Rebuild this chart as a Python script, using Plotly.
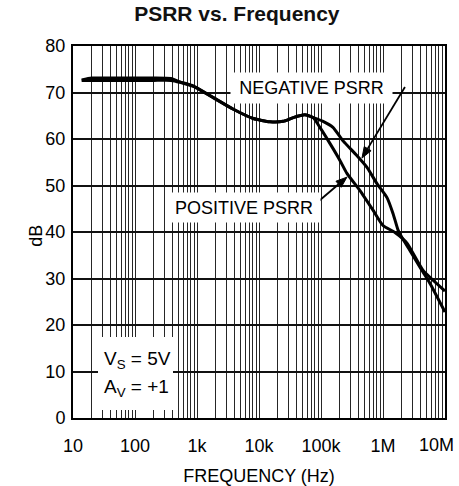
import math
import plotly.graph_objects as go

# Positive supply rejection (dB) vs frequency (Hz)
freq_pos = [13.8, 20, 50, 100, 200, 380, 530, 870, 1830, 3860, 8100, 15000, 24600,
            35700, 55000, 75000, 96000, 140000, 202000, 262000, 425000, 690000,
            1.0e6, 1.56e6, 2.44e6, 4.4e6, 1.0e7]
psrr_pos = [72.6, 72.6, 72.6, 72.6, 72.6, 72.6, 72.2, 71.3, 68.9, 66.4, 64.4, 63.7, 63.8,
            64.6, 65.2, 64.6, 62.5, 59.0, 55.4, 52.6, 48.9, 44.7,
            41.4, 39.9, 37.6, 31.8, 27.3]

# Negative supply rejection (dB) vs frequency (Hz)
freq_neg = [13.8, 20, 50, 100, 200, 380, 530, 870, 1830, 3860, 8100, 15000, 24600,
            35700, 55000, 75000, 108000, 156000, 227000, 381000, 552000, 800000,
            1.16e6, 1.45e6, 1.75e6, 2.0e6, 2.7e6, 3.95e6, 5.7e6, 1.0e7]
psrr_neg = [72.7, 73.1, 73.1, 73.1, 73.1, 73.0, 72.3, 71.4, 68.9, 66.4, 64.4, 63.7, 63.8,
            64.6, 65.2, 64.6, 63.8, 62.5, 59.6, 56.4, 53.9, 50.4,
            47.4, 44.0, 40.4, 38.9, 36.1, 32.4, 29.0, 22.8]

decade_vals = [10, 100, 1e3, 1e4, 1e5, 1e6, 1e7]
decade_text = ["10", "100", "1k", "10k", "100k", "1M", "10M"]
minor_vals = [m * 10 ** d for d in range(1, 7) for m in range(2, 10)]
db_vals = list(range(0, 81, 10))

X_RANGE = (1, 7)        # log10 Hz
Y_RANGE = (0, 80)       # dB
PLOT_PX = 372           # plot area is square: 372 x 372 px

FONT = "Liberation Sans, Arial, Helvetica, sans-serif"
GRID = "#262626"


def to_paper(freq, db):
    """Convert (Hz, dB) to paper fractions of the plotting area."""
    px = (math.log10(freq) - X_RANGE[0]) / (X_RANGE[1] - X_RANGE[0])
    py = (db - Y_RANGE[0]) / (Y_RANGE[1] - Y_RANGE[0])
    return px, py


def arrow_shapes(tail, tip, head_len=11, head_half=4):
    """Leader line plus filled triangular head, in paper coordinates."""
    tx, ty = to_paper(*tail)
    hx, hy = to_paper(*tip)
    dx, dy = (hx - tx) * PLOT_PX, (hy - ty) * PLOT_PX
    n = math.hypot(dx, dy)
    ux, uy = dx / n, dy / n
    bx, by = hx - ux * head_len / PLOT_PX, hy - uy * head_len / PLOT_PX
    lx, ly = bx - uy * head_half / PLOT_PX, by + ux * head_half / PLOT_PX
    rx, ry = bx + uy * head_half / PLOT_PX, by - ux * head_half / PLOT_PX
    line = dict(type="line", xref="paper", yref="paper", x0=tx, y0=ty, x1=bx, y1=by,
                line=dict(color="black", width=1.8), layer="above")
    head = dict(type="path", xref="paper", yref="paper",
                path=f"M {hx} {hy} L {lx} {ly} L {rx} {ry} Z",
                fillcolor="black", line=dict(color="black", width=1), layer="above")
    return [line, head]


fig = go.Figure()
for f, v in ((freq_pos, psrr_pos), (freq_neg, psrr_neg)):
    fig.add_trace(go.Scatter(
        x=f, y=v, mode="lines",
        line=dict(color="black", width=3, shape="spline", smoothing=0.5),
        showlegend=False, hoverinfo="skip"))

fig.update_layout(
    width=459, height=486,
    margin=dict(l=73, r=14, t=46, b=68, autoexpand=False),
    paper_bgcolor="white", plot_bgcolor="white",
    font=dict(family=FONT, size=18, color="black"),
    title=dict(text="<b>PSRR vs. Frequency</b>", font=dict(size=21, color="#111"),
               x=0.516, xref="container", xanchor="center",
               y=1 - 14 / 486, yref="container", yanchor="middle"),
)

# the rightmost decade label is drawn right-aligned at the frame so it fits the page
x_ticktext = decade_text[:-1] + [""]
fig.update_xaxes(
    type="log", range=list(X_RANGE), automargin=False,
    tickmode="array", tickvals=decade_vals, ticktext=x_ticktext,
    ticks="", ticklabelstandoff=10,
    showgrid=True, gridcolor=GRID, gridwidth=1.3,
    minor=dict(tickmode="array", tickvals=minor_vals, showgrid=True,
               gridcolor=GRID, gridwidth=1.3, ticks=""),
    showline=True, linecolor="black", linewidth=2, mirror=True, zeroline=False,
    title=dict(text="FREQUENCY (Hz)", standoff=21, font=dict(size=18)),
)
fig.update_yaxes(
    range=list(Y_RANGE), automargin=False, tickmode="array", tickvals=db_vals,
    ticks="", ticklabelstandoff=2,
    showgrid=True, gridcolor="#111", gridwidth=1.5,
    showline=True, linecolor="black", linewidth=2, mirror=True, zeroline=False,
)

fig.add_annotation(x=math.log10(decade_vals[-1]), xref="x", xanchor="right", xshift=11,
                   y=0, yref="paper", yanchor="middle", yshift=-27,
                   text=decade_text[-1], showarrow=False, font=dict(size=18))
fig.add_annotation(x=0, xref="paper", xanchor="center", xshift=-37,
                   y=0.49, yref="paper", yanchor="middle",
                   text="dB", textangle=-90, showarrow=False, font=dict(size=18))

# label boxes knock the grid out behind the text
fig.add_annotation(x=4.847, y=70.97, xref="x", yref="y", text="NEGATIVE PSRR",
                   showarrow=False, bgcolor="white", width=161, height=30,
                   borderpad=0, font=dict(size=18))
fig.add_annotation(x=3.758, y=45.27, xref="x", yref="y", text="POSITIVE PSRR",
                   showarrow=False, bgcolor="white", width=152, height=29,
                   borderpad=0, font=dict(size=18))

# leader arrows from each label to its curve: (Hz, dB) tail -> tip
for s in arrow_shapes((2.26e6, 71.2), (4.58e5, 55.9)) + arrow_shapes((8.95e4, 46.5), (2.62e5, 51.8)):
    fig.add_shape(**s)

# test-condition box
fig.add_shape(type="rect", xref="paper", yref="paper",
              x0=25 / 372, x1=100 / 372, y0=8 / 372, y1=81 / 372,
              fillcolor="white", line=dict(width=0), layer="above")
fig.add_annotation(x=1.463, y=12.45, xref="x", yref="y", xanchor="left",
                   text="V<sub>S</sub> = 5V", showarrow=False, font=dict(size=19))
fig.add_annotation(x=1.463, y=6.4, xref="x", yref="y", xanchor="left",
                   text="A<sub>V</sub> = +1", showarrow=False, font=dict(size=19))

fig.write_html("out.html")
